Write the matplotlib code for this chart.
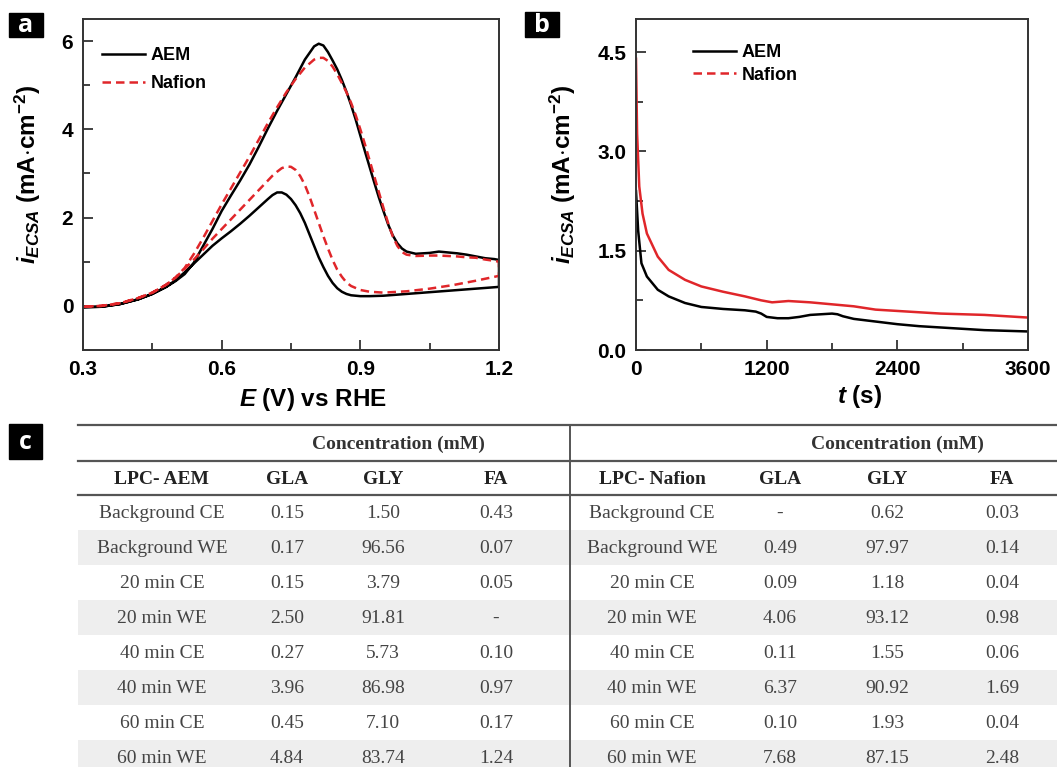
import matplotlib
matplotlib.use('Agg')
import matplotlib.pyplot as plt
import numpy as np
from matplotlib.lines import Line2D
from matplotlib.patches import Rectangle
from matplotlib.ticker import MultipleLocator, FormatStrFormatter

# %%
# Data
# (a) CV: forward scan (upper branch) and backward scan (lower branch)
E_fwd = [0.30, 0.34, 0.38, 0.42, 0.45, 0.48, 0.50, 0.52, 0.54, 0.56, 0.58, 0.60,
         0.62, 0.64, 0.66, 0.68, 0.70, 0.72, 0.74, 0.76, 0.78, 0.80, 0.81, 0.82,
         0.83, 0.84, 0.85, 0.86, 0.87, 0.88, 0.89, 0.90, 0.91, 0.92, 0.93, 0.94,
         0.95, 0.96, 0.97, 0.98, 0.99, 1.00, 1.02, 1.05, 1.07, 1.09, 1.11, 1.13,
         1.15, 1.17, 1.19, 1.20]
aem_fwd = [-0.03, -0.02, 0.04, 0.15, 0.27, 0.43, 0.56, 0.72, 0.98, 1.36, 1.74, 2.15,
           2.50, 2.84, 3.20, 3.60, 4.02, 4.42, 4.80, 5.18, 5.58, 5.88, 5.94, 5.90,
           5.75, 5.56, 5.36, 5.12, 4.85, 4.55, 4.22, 3.86, 3.50, 3.15, 2.80, 2.46,
           2.15, 1.85, 1.60, 1.42, 1.30, 1.23, 1.18, 1.20, 1.23, 1.21, 1.19, 1.16,
           1.12, 1.08, 1.06, 1.04]
naf_fwd = [-0.02, 0.00, 0.06, 0.18, 0.30, 0.48, 0.64, 0.86, 1.18, 1.54, 1.92, 2.30,
           2.66, 3.02, 3.38, 3.76, 4.14, 4.50, 4.84, 5.14, 5.40, 5.58, 5.62, 5.62,
           5.55, 5.42, 5.25, 5.05, 4.84, 4.60, 4.32, 4.00, 3.66, 3.30, 2.94, 2.58,
           2.22, 1.88, 1.58, 1.36, 1.22, 1.16, 1.13, 1.14, 1.14, 1.13, 1.12, 1.10,
           1.09, 1.05, 1.02, 1.00]

E_bwd = [1.20, 1.15, 1.10, 1.05, 1.00, 0.95, 0.92, 0.90, 0.88, 0.87, 0.86, 0.85,
         0.84, 0.83, 0.82, 0.81, 0.80, 0.79, 0.78, 0.77, 0.76, 0.75, 0.74, 0.73,
         0.72, 0.71, 0.70, 0.68, 0.66, 0.64, 0.62, 0.60, 0.58, 0.56, 0.54, 0.52,
         0.50, 0.48, 0.45, 0.42, 0.38, 0.34, 0.30]
aem_bwd = [0.43, 0.39, 0.35, 0.31, 0.27, 0.23, 0.22, 0.22, 0.24, 0.27, 0.32, 0.40,
           0.52, 0.68, 0.88, 1.10, 1.36, 1.62, 1.88, 2.10, 2.28, 2.42, 2.52, 2.57,
           2.57, 2.51, 2.42, 2.23, 2.04, 1.86, 1.69, 1.53, 1.36, 1.16, 0.96, 0.76,
           0.58, 0.43, 0.27, 0.15, 0.04, -0.02, -0.03]
naf_bwd = [0.68, 0.57, 0.47, 0.39, 0.33, 0.30, 0.32, 0.36, 0.45, 0.53, 0.66, 0.82,
           1.04, 1.30, 1.58, 1.88, 2.18, 2.48, 2.74, 2.94, 3.08, 3.15, 3.16, 3.12,
           3.04, 2.95, 2.84, 2.62, 2.40, 2.18, 1.96, 1.74, 1.52, 1.28, 1.05, 0.84,
           0.64, 0.48, 0.30, 0.18, 0.06, 0.00, -0.02]

# (b) chronoamperometry
t_aem = [0, 20, 50, 100, 200, 300, 450, 600, 800, 1000, 1100, 1150, 1200, 1300,
         1400, 1500, 1600, 1700, 1800, 1850, 1900, 2000, 2200, 2400, 2600, 2800,
         3000, 3200, 3400, 3600]
i_aem = [2.40, 1.80, 1.31, 1.11, 0.91, 0.81, 0.71, 0.65, 0.62, 0.60, 0.58, 0.55,
         0.50, 0.48, 0.48, 0.50, 0.53, 0.54, 0.55, 0.54, 0.51, 0.47, 0.43, 0.39,
         0.36, 0.34, 0.32, 0.30, 0.29, 0.28]
t_naf = [0, 10, 30, 60, 100, 200, 300, 450, 600, 800, 1000, 1150, 1250, 1400,
         1600, 1800, 2000, 2200, 2400, 2600, 2800, 3000, 3200, 3400, 3600]
i_naf = [4.40, 3.27, 2.47, 2.06, 1.76, 1.41, 1.21, 1.06, 0.96, 0.88, 0.81, 0.75,
         0.72, 0.74, 0.72, 0.69, 0.66, 0.61, 0.59, 0.57, 0.55, 0.54, 0.53, 0.51,
         0.49]

# (c) table
row_labels = ['Background CE', 'Background WE', '20 min CE', '20 min WE',
              '40 min CE', '40 min WE', '60 min CE', '60 min WE']
species = ['GLA', 'GLY', 'FA']
aem_gla = ['0.15', '0.17', '0.15', '2.50', '0.27', '3.96', '0.45', '4.84']
aem_gly = ['1.50', '96.56', '3.79', '91.81', '5.73', '86.98', '7.10', '83.74']
aem_fa = ['0.43', '0.07', '0.05', '-', '0.10', '0.97', '0.17', '1.24']
naf_gla = ['-', '0.49', '0.09', '4.06', '0.11', '6.37', '0.10', '7.68']
naf_gly = ['0.62', '97.97', '1.18', '93.12', '1.55', '90.92', '1.93', '87.15']
naf_fa = ['0.03', '0.14', '0.04', '0.98', '0.06', '1.69', '0.04', '2.48']

# %%
plt.rcParams['font.family'] = ['Liberation Sans', 'DejaVu Sans']
plt.rcParams['mathtext.fontset'] = 'custom'
plt.rcParams['mathtext.rm'] = 'Liberation Sans:bold'
plt.rcParams['mathtext.it'] = 'Liberation Sans:italic:bold'
plt.rcParams['mathtext.bf'] = 'Liberation Sans:bold'

RED = '#e0262a'
W, H = 1057, 767
fig = plt.figure(figsize=(W / 100, H / 100), dpi=100)

def px_axes(x0, y0, x1, y1):
    return fig.add_axes([x0 / W, 1 - y1 / H, (x1 - x0) / W, (y1 - y0) / H])

def style(ax):
    for s in ax.spines.values():
        s.set_linewidth(1.4)
        s.set_color('#333333')
    ax.tick_params(which='both', direction='in', top=False, right=False,
                   width=1.3, color='#333333')
    ax.tick_params(which='major', length=7, labelsize=15, pad=7)
    ax.tick_params(which='minor', length=5)
    for lab in ax.get_xticklabels() + ax.get_yticklabels():
        lab.set_fontweight('bold')

ylab = r'$i_{ECSA}$ (mA$\cdot$cm$^{-2}$)'
dash = (3.4, 2.0)

# (a)
ax1 = px_axes(83, 19, 499, 350)
ax1.plot(E_fwd + E_bwd, aem_fwd + aem_bwd, color='black', lw=1.8)
ax1.plot(E_fwd + E_bwd, naf_fwd + naf_bwd, color=RED, lw=1.8, ls=(0, dash))
ax1.set_xlim(0.3, 1.2)
ax1.set_ylim(-1, 6.5)
ax1.xaxis.set_major_locator(MultipleLocator(0.3))
ax1.xaxis.set_minor_locator(MultipleLocator(0.15))
ax1.xaxis.set_major_formatter(FormatStrFormatter('%.1f'))
ax1.yaxis.set_major_locator(MultipleLocator(2))
ax1.yaxis.set_minor_locator(MultipleLocator(1))
ax1.set_xlabel(r'$E$ (V) vs RHE', fontsize=17.5, fontweight='bold')
ax1.set_ylabel(ylab, fontsize=17.5, fontweight='bold')
ax1.xaxis.set_label_coords(0.553, -0.11)
ax1.yaxis.set_label_coords(-0.097, 0.53)
style(ax1)

# (b)
ax2 = px_axes(636, 19, 1028, 350)
ax2.plot(t_aem, i_aem, color='black', lw=1.8)
ax2.plot(t_naf, i_naf, color=RED, lw=1.8)
ax2.set_xlim(0, 3600)
ax2.set_ylim(0, 5)
ax2.xaxis.set_major_locator(MultipleLocator(1200))
ax2.xaxis.set_minor_locator(MultipleLocator(600))
ax2.yaxis.set_major_locator(MultipleLocator(1.5))
ax2.yaxis.set_minor_locator(MultipleLocator(0.75))
ax2.yaxis.set_major_formatter(FormatStrFormatter('%.1f'))
ax2.set_xlabel(r'$t$ (s)', fontsize=17.5, fontweight='bold')
ax2.set_ylabel(ylab, fontsize=17.5, fontweight='bold')
ax2.xaxis.set_label_coords(0.571, -0.10)
ax2.yaxis.set_label_coords(-0.148, 0.53)
style(ax2)

handles = [Line2D([], [], color='black', lw=1.8),
           Line2D([], [], color=RED, lw=1.8, ls=(0, dash))]
for ax, anchor, sp in [(ax1, (0.045, 0.915), 0.62), (ax2, (0.145, 0.925), 0.33)]:
    ax.legend(handles, ['AEM', 'Nafion'], loc='upper left', bbox_to_anchor=anchor,
              frameon=False, borderpad=0, borderaxespad=0, handlelength=2.4,
              handletextpad=0.3, labelspacing=sp,
              prop={'weight': 'bold', 'size': 13})

# %%
# (c) table, drawn in pixel coordinates over the whole figure
axt = fig.add_axes([0, 0, 1, 1])
axt.set_xlim(0, W)
axt.set_ylim(H, 0)
axt.axis('off')
axt.patch.set_alpha(0)

top, row_h = 425, 35
head1, head2 = 461, 495
for k in range(len(row_labels)):
    y0 = head2 + k * row_h
    if k % 2 == 1:
        axt.add_patch(Rectangle((78, y0), W - 78, row_h, color='#eeeeee', lw=0, zorder=0))
for y in [top, head1, head2]:
    axt.plot([78, W], [y, y], color='#555555', lw=1.6, zorder=2)
axt.plot([570, 570], [top, H], color='#555555', lw=1.4, zorder=2)

serif = ['Liberation Serif', 'DejaVu Serif']
tkw = dict(ha='center', va='center', family=serif, fontsize=14)
halves = [
    ('LPC- AEM', [162, 287, 383, 496], 398, [aem_gla, aem_gly, aem_fa]),
    ('LPC- Nafion', [652, 780, 887, 1002], 897, [naf_gla, naf_gly, naf_fa]),
]
for name, cols, cx, vals in halves:
    axt.text(cx, (top + head1) / 2 + 1, 'Concentration (mM)', fontweight='bold',
             color='#333333', **tkw)
    axt.text(cols[0], (head1 + head2) / 2 + 1, name, fontweight='bold',
             color='#222222', **tkw)
    for c, sp in zip(cols[1:], species):
        axt.text(c, (head1 + head2) / 2 + 1, sp, fontweight='bold',
                 color='#222222', **tkw)
    for k, lab in enumerate(row_labels):
        yc = head2 + (k + 0.5) * row_h + 1
        axt.text(cols[0], yc, lab, color='#444444', **tkw)
        for c, v in zip(cols[1:], vals):
            axt.text(c, yc, v[k], color='#444444', **tkw)

# panel letters
for letter, (x0, y0, x1, y1) in [('a', (9, 13, 43, 37)), ('b', (525, 12, 559, 37)),
                                 ('c', (9, 424, 42, 459))]:
    axt.add_patch(Rectangle((x0, y0), x1 - x0, y1 - y0, color='black', zorder=3))
    axt.text((x0 + x1) / 2, (y0 + y1) / 2 + 1, letter, color='white',
             fontsize=18, fontweight='bold', ha='center', va='center',
             family=['Open Sans', 'DejaVu Sans'], zorder=4)

fig.savefig('out.png', dpi=100)
